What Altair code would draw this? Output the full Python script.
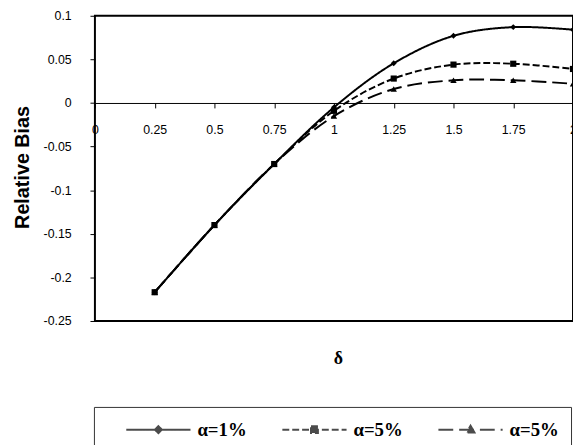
import altair as alt
import pandas as pd

# ---- data ----
delta = [0.25, 0.5, 0.75, 1.0, 1.25, 1.5, 1.75, 2.0]
bias_a1 = [-0.217, -0.140, -0.070, -0.005, 0.0455, 0.077, 0.087, 0.084]
bias_a5 = [-0.217, -0.140, -0.070, -0.009, 0.028, 0.044, 0.045, 0.039]
bias_a5b = [-0.217, -0.140, -0.070, -0.015, 0.016, 0.026, 0.026, 0.022]

series_keys = ["s1", "s2", "s3"]
series_labels = ["α=1%", "α=5%", "α=5%"]
series_values = [bias_a1, bias_a5, bias_a5b]

x_ticks = [0, 0.25, 0.5, 0.75, 1, 1.25, 1.5, 1.75, 2]
y_ticks = [-0.25, -0.2, -0.15, -0.1, -0.05, 0, 0.05, 0.1]
x_domain = [0, 2]
y_domain = [-0.25, 0.1]

title_text = "and b=0.01"
y_title = "Relative Bias"
x_title = "δ"

# ---- styles ----
dashes = [[1, 0], [7, 3], [15, 6]]
marker_shapes = ["diamond", "square", "triangle-up"]
marker_sizes = [36, 42, 44]
# legend symbols: line with its marker in the middle (path units scaled by sqrt(symbolSize)/2)
legend_paths = [
    "M-3.25,0H3.25M0,-0.35L0.35,0L0,0.35L-0.35,0Z",
    "M-3.25,0H3.25M-0.35,-0.35H0.35V0.35H-0.35Z",
    "M-3.25,0H3.25M0,-0.4L0.4,0.3L-0.4,0.3Z",
]

rows = []
for key, vals in zip(series_keys, series_values):
    for d, v in zip(delta, vals):
        rows.append({"delta": d, "bias": v, "series": key})
df = pd.DataFrame(rows)

W, H = 484, 309
axis_offset = -H * (0 - y_domain[0]) / (y_domain[1] - y_domain[0])

label_expr = ""
for k, lab in zip(series_keys[:-1], series_labels[:-1]):
    label_expr += f"datum.value == '{k}' ? '{lab}' : "
label_expr += f"'{series_labels[-1]}'"

x_enc = alt.X(
    "delta:Q",
    scale=alt.Scale(domain=x_domain, nice=False, zero=False),
    axis=alt.Axis(
        values=x_ticks, labelExpr="'' + datum.value", orient="bottom",
        offset=axis_offset, tickSize=5, tickColor="black", tickWidth=1,
        domainColor="black", domainWidth=1, labelPadding=16,
        labelFont="Liberation Sans", labelFontSize=12.5, labelColor="black",
        labelOverlap=False, labelFlush=False, labelBound=False, grid=False,
        title=x_title, titleX=246, titleY=259, titleBaseline="middle",
        titleAlign="center", titleFont="Liberation Serif", titleFontSize=18,
        titleFontWeight="bold", titleColor="black",
    ),
)
y_enc = alt.Y(
    "bias:Q",
    scale=alt.Scale(domain=y_domain, nice=False, zero=False),
    axis=alt.Axis(
        values=y_ticks, labelExpr="'' + datum.value", domain=False,
        tickSize=5, tickColor="black", tickWidth=1, labelPadding=19,
        labelFont="Liberation Sans", labelFontSize=12.5, labelColor="black",
        grid=False, title=y_title, titleX=-73, titleY=153, titleAngle=270,
        titleBaseline="middle", titleAlign="center",
        titleFont="Liberation Sans", titleFontSize=20, titleFontWeight="bold",
        titleColor="black",
    ),
)

base = alt.Chart(df)

lines = base.mark_line(color="black", strokeWidth=2, interpolate="catmull-rom").encode(
    x=x_enc, y=y_enc,
    strokeDash=alt.StrokeDash("series:N", scale=alt.Scale(domain=series_keys, range=dashes), legend=None),
)

points = base.mark_point(filled=True, color="black", opacity=1).encode(
    x=x_enc, y=y_enc,
    shape=alt.Shape("series:N", scale=alt.Scale(domain=series_keys, range=marker_shapes), legend=None),
    size=alt.Size("series:N", scale=alt.Scale(domain=series_keys, range=marker_sizes), legend=None),
)

legend_kw = dict(
    orient="none", legendX=-1, legendY=396, direction="horizontal", title=None,
    padding=12, strokeColor="#333333", fillColor="white",
    symbolSize=400, symbolStrokeWidth=2, symbolOffset=42.25, labelOffset=28.5,
    columnPadding=15, labelFont="Liberation Serif", labelFontSize=19,
    labelFontWeight="bold", labelColor="black", labelBaseline="middle",
    labelLimit=300, labelExpr=label_expr,
)

legend_layer = base.mark_point(filled=True, fill="black", stroke="black", strokeWidth=2).transform_filter(
    "false"
).encode(
    shape=alt.Shape("series:N", scale=alt.Scale(domain=series_keys, range=legend_paths), legend=alt.Legend(**legend_kw)),
    strokeDash=alt.StrokeDash("series:N", scale=alt.Scale(domain=series_keys, range=dashes), legend=alt.Legend(**legend_kw)),
)

chart = alt.layer(lines, points, legend_layer).resolve_scale(
    shape="independent", strokeDash="independent", size="independent"
).properties(
    width=W, height=H,
    title=alt.TitleParams(title_text, font="Liberation Sans", fontSize=22, fontWeight="bold",
                          anchor="middle", frame="group", dx=-37, offset=6, baseline="alphabetic",
                          color="black"),
    padding={"left": 88, "top": 5, "right": 0, "bottom": 150},
    autosize=alt.AutoSizeParams(type="none"),
    background="white",
).configure_view(stroke="black", strokeWidth=2)

chart.save("out.html", embed_options={"renderer": "svg", "actions": False})
